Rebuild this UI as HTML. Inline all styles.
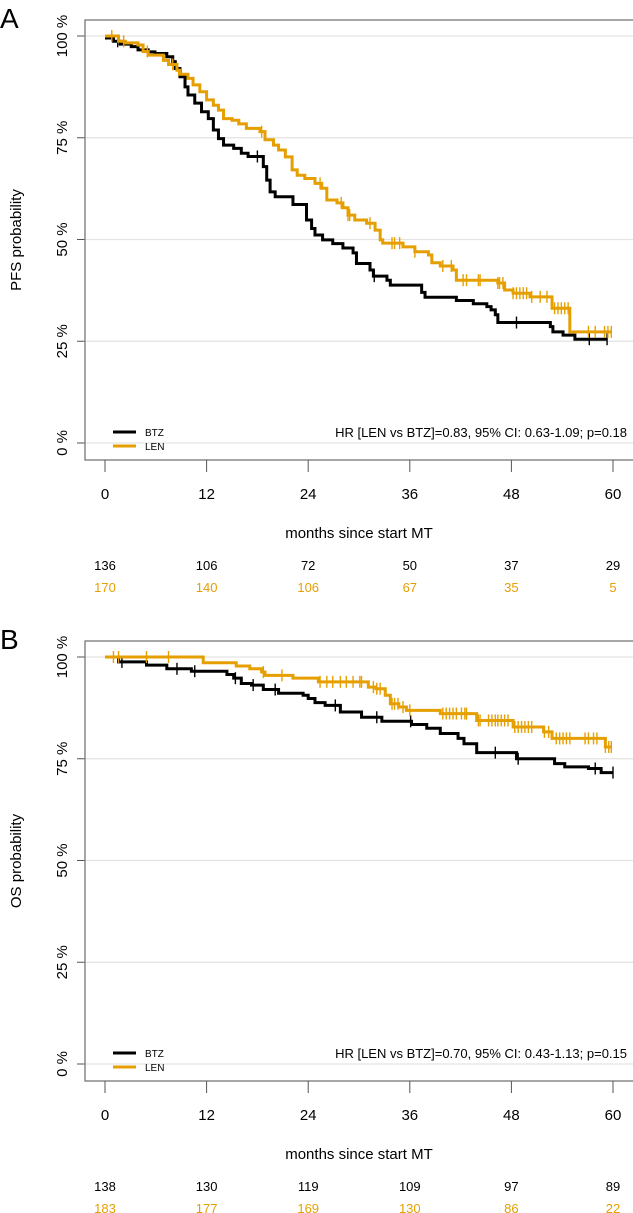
<!DOCTYPE html>
<html><head><meta charset="utf-8"><style>
html,body{margin:0;padding:0;background:#fff;}
svg{display:block;font-family:"Liberation Sans",Arial,sans-serif;}
</style></head>
<body>
<svg id="c" width="633" height="1213" viewBox="0 0 633 1213"></svg>
<script>
// ---- Data ----
const xTicks = [0, 12, 24, 36, 48, 60];
const yTicks = [0, 0.25, 0.5, 0.75, 1];
const yTickLabels = ["0 %", "25 %", "50 %", "75 %", "100 %"];

const pfsBtzT = [0,1,1.8,3.1,3.9,5.1,5.9,7.3,8,8.3,8.85,9.45,9.8,10.6,11.4,12.2,12.8,13.4,14,15.2,16.1,16.9,18.7,19.1,19.5,20.1,22.2,23.8,24.4,24.8,25.7,26.9,28.1,29.3,29.7,31.3,31.7,33.3,33.7,37.4,37.8,41.5,43.5,45.1,45.6,46.1,46.4,52.6,52.9,54.1,55.5];
const pfsBtzS = [0.995,0.987,0.98,0.974,0.966,0.961,0.957,0.949,0.937,0.92,0.9,0.875,0.855,0.835,0.814,0.797,0.769,0.748,0.732,0.724,0.712,0.704,0.679,0.646,0.617,0.605,0.586,0.548,0.527,0.511,0.499,0.49,0.479,0.467,0.441,0.425,0.41,0.4,0.388,0.37,0.358,0.35,0.342,0.335,0.327,0.315,0.296,0.286,0.273,0.265,0.255];
const pfsBtzCens = [1.5,18.0,31.8,48.6,57.2,59.3];
const pfsLenT = [0,1.6,2.4,3.9,4.5,5.1,6.9,7.5,8.5,8.8,9.8,10.4,11.2,12,12.8,13.4,14,15,15.8,16.7,18.3,18.9,19.9,20.5,21.3,22.1,22.7,23.6,24.8,25.6,26.2,27.4,28.1,28.7,29.5,30.9,31.9,32.5,32.8,35.2,36.6,38.2,38.6,39.6,41.1,41.5,46.4,47.2,48.2,50.2,52.8,54.9];
const pfsLenS = [1,0.987,0.983,0.978,0.962,0.953,0.94,0.93,0.916,0.906,0.896,0.88,0.863,0.843,0.83,0.818,0.797,0.793,0.784,0.773,0.765,0.745,0.732,0.72,0.703,0.671,0.658,0.65,0.638,0.626,0.597,0.59,0.578,0.56,0.548,0.54,0.523,0.499,0.491,0.482,0.47,0.462,0.443,0.435,0.425,0.4,0.393,0.376,0.368,0.359,0.331,0.273];
const pfsLenCens = [0.8,2.2,5.0,8.0,18.5,25.4,27.9,28.7,28.9,31.3,33.9,34.2,34.8,36.6,39.9,40.9,42.3,42.7,44.1,44.3,46.4,46.6,47.0,48.2,48.6,49.0,49.4,49.8,50.4,51.4,52.2,53.1,53.5,53.9,54.3,54.7,57.1,57.9,59.0,59.4,59.8];
const pfsRiskBtz = [136,106,72,50,37,29];
const pfsRiskLen = [170,140,106,67,35,5];

const osBtzT = [0,1.6,4.9,7.3,10.2,14.4,15.2,16.1,17.3,18.7,20.5,23.4,24.0,24.8,26,27.8,30.3,32.7,36.2,38,39.6,41.7,42.4,43.9,48.6,53.1,54.3,57.1,58.6];
const osBtzS = [1,0.988,0.98,0.971,0.965,0.957,0.948,0.935,0.931,0.92,0.911,0.906,0.898,0.888,0.881,0.865,0.852,0.842,0.834,0.825,0.812,0.8,0.787,0.765,0.75,0.738,0.73,0.726,0.716];
const osBtzCens = [2.0,8.5,10.6,15.4,17.5,20.1,27.2,32.1,36.1,46.1,48.8,57.9,60];
const osLenT = [0,11.6,15.5,17.1,18.5,18.9,22.2,25.2,31.1,32,33.1,33.7,34.7,35.6,39.6,43.9,48.2,51.8,52.8,59.1];
const osLenS = [1,0.986,0.978,0.971,0.963,0.955,0.948,0.939,0.926,0.922,0.906,0.885,0.877,0.869,0.861,0.844,0.828,0.816,0.8,0.779];
const osLenCens = [1.0,1.6,4.9,7.5,18.7,20.9,25.4,26.2,26.9,27.8,28.5,29.3,30.1,30.3,31.7,32.1,32.5,33.9,34.2,34.6,35.2,36.0,39.9,40.3,40.7,41.1,41.5,42.1,42.5,42.7,44.1,44.3,45.3,45.7,46.1,46.4,46.8,47.2,47.6,48.4,48.8,49.2,49.6,50.0,50.4,51.9,52.4,53.3,53.7,54.1,54.5,54.9,56.7,57.1,57.7,58.1,59.1,59.5,59.8];
const osRiskBtz = [138,130,119,109,97,89];
const osRiskLen = [183,177,169,130,86,22];

const ORANGE = "#E69F00";
const NS = "http://www.w3.org/2000/svg";
const svg = document.getElementById("c");
function mk(tag, attrs, parent, text){
  const e = document.createElementNS(NS, tag);
  for (const k in attrs) e.setAttribute(k, attrs[k]);
  if (text !== undefined) e.textContent = text;
  (parent || svg).appendChild(e);
  return e;
}
const xScale = m => 105 + m * 508 / 60;
function stepAt(T, S, t){ let s = S[0]; for (let i=0;i<T.length;i++){ if (T[i] <= t) s = S[i]; } return s; }

function panel(off, letter, ylab, hr, btzT, btzS, btzC, lenT, lenS, lenC, rB, rL, pname){
  const yScale = s => off + 443 - 407 * s;
  const g = mk("g", {});
  
  
  const pl = mk("text", {x: 0, y: off + 28, "font-size": 28}, g, letter);
  
  
  // gridlines
  yTicks.forEach((v, i) => {
    const gl = mk("line", {x1: 85, x2: 633, y1: yScale(v), y2: yScale(v), stroke: "#e3e3e3", "stroke-width": 1.2}, g);
    
    
    const tk = mk("line", {x1: 77, x2: 85, y1: yScale(v), y2: yScale(v), stroke: "#555", "stroke-width": 1}, g);
    
    
    const yy = yScale(v);
    const tl = mk("text", {x: 0, y: 0, "font-size": 15, "text-anchor": "middle", transform: `translate(67,${yy}) rotate(-90)`}, g, yTickLabels[i]);
    
    
  });
  const box = mk("rect", {x: 85, y: off + 20, width: 560, height: 440, fill: "none", stroke: "#777", "stroke-width": 1.3}, g);
  
  
  const yl = mk("text", {x: 0, y: 0, "font-size": 15, "text-anchor": "middle", transform: `translate(21,${off + 240}) rotate(-90)`}, g, ylab);
  
  
  xTicks.forEach((v, i) => {
    const x = xScale(v);
    const t = mk("line", {x1: x, x2: x, y1: off + 460, y2: off + 472, stroke: "#555", "stroke-width": 1}, g);
    
    
    const l = mk("text", {x: x, y: off + 499, "font-size": 15, "text-anchor": "middle"}, g, String(v));
    
    
    const a = mk("text", {x: x, y: off + 570, "font-size": 13, "text-anchor": "middle"}, g, String(rB[i]));
    
    
    const b = mk("text", {x: x, y: off + 592, "font-size": 13, "text-anchor": "middle", fill: ORANGE}, g, String(rL[i]));
    
    
  });
  const xl = mk("text", {x: 359, y: off + 538, "font-size": 15, "text-anchor": "middle"}, g, "months since start MT");
  
  
  function curve(T, S, C, color, nm){
    let d = `M${xScale(T[0])},${yScale(S[0])}`;
    for (let i = 1; i < T.length; i++){
      d += ` H${xScale(T[i])} V${yScale(S[i])}`;
    }
    const end = Math.max(T[T.length-1], C[C.length-1]);
    d += ` H${xScale(end)}`;
    const p = mk("path", {d: d, fill: "none", stroke: color, "stroke-width": 3}, g);
    
    
    C.forEach(t => {
      const x = xScale(t), y = yScale(stepAt(T, S, t));
      const c = mk("line", {x1: x, x2: x, y1: y - 6, y2: y + 6, stroke: color, "stroke-width": 1.4}, g);
      
      
    });
  }
  curve(btzT, btzS, btzC, "#000", "btz");
  curve(lenT, lenS, lenC, ORANGE, "len");
  // legend
  const lg = mk("g", {}, g);
  
  
  const l1 = mk("line", {x1: 113, x2: 136, y1: off + 432, y2: off + 432, stroke: "#000", "stroke-width": 3}, lg);
  
  
  const t1 = mk("text", {x: 145, y: off + 436, "font-size": 10}, lg, "BTZ");
  
  
  const l2 = mk("line", {x1: 113, x2: 136, y1: off + 446, y2: off + 446, stroke: ORANGE, "stroke-width": 3}, lg);
  
  
  const t2 = mk("text", {x: 145, y: off + 450, "font-size": 10}, lg, "LEN");
  
  
  const h = mk("text", {x: 627, y: off + 437, "font-size": 13, "text-anchor": "end"}, g, hr);
  
  
}

panel(0, "A", "PFS probability", "HR [LEN vs BTZ]=0.83, 95% CI: 0.63-1.09; p=0.18",
  pfsBtzT, pfsBtzS, pfsBtzCens, pfsLenT, pfsLenS, pfsLenCens, pfsRiskBtz, pfsRiskLen, "pfs-panel");
panel(621, "B", "OS probability", "HR [LEN vs BTZ]=0.70, 95% CI: 0.43-1.13; p=0.15",
  osBtzT, osBtzS, osBtzCens, osLenT, osLenS, osLenCens, osRiskBtz, osRiskLen, "os-panel");
</script>
</body></html>
